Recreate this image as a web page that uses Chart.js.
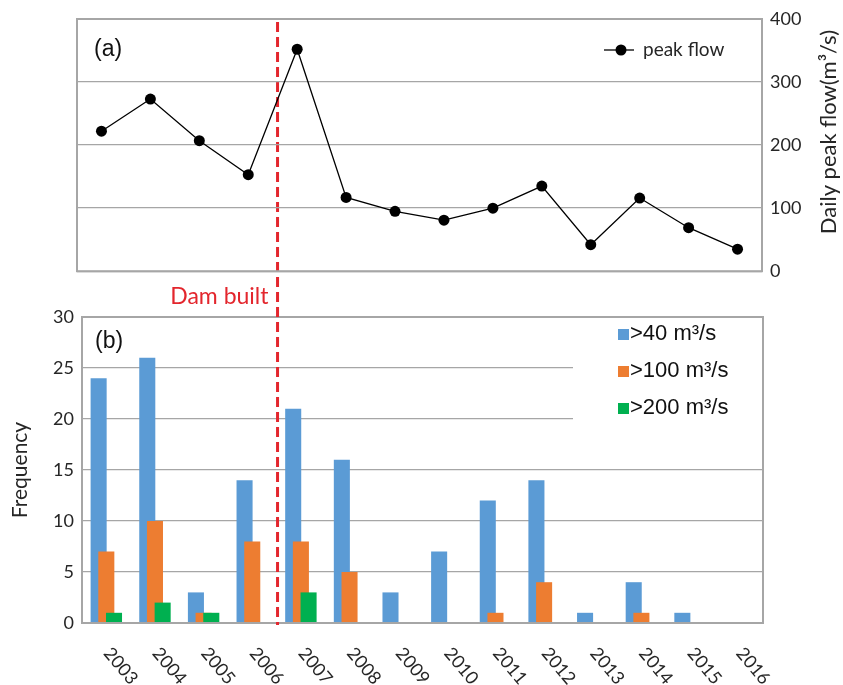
<!DOCTYPE html>
<html>
<head>
<meta charset="utf-8">
<style>
  body { margin: 0; background: #fff; }
  #wrap { position: relative; width: 843px; height: 685px; }
  canvas { position: absolute; left: 0; top: 0; }
</style>
</head>
<body>
<div id="wrap">
  <canvas id="freqChart" width="843" height="685"></canvas>
  <canvas id="flowChart" width="843" height="290"></canvas>
</div>

<script src="https://cdn.jsdelivr.net/npm/chart.js"></script>
<script>
  // data
  const years = ['2003', '2004', '2005', '2006', '2007', '2008', '2009', '2010', '2011', '2012', '2013', '2014', '2015', '2016'];
  const peakFlow = [222, 273, 207, 153, 352, 117, 95, 81, 100, 135, 42, 116, 69, 35];
  const over40 = [24, 26, 3, 14, 21, 16, 3, 7, 12, 14, 1, 4, 1, 0];
  const over100 = [7, 10, 1, 8, 8, 5, 0, 0, 1, 4, 0, 1, 0, 0];
  const over200 = [1, 2, 1, 0, 3, 0, 0, 0, 0, 0, 0, 0, 0, 0];
  const freqLabels = ['>40 m³/s', '>100 m³/s', '>200 m³/s'];
  const freqColors = ['#5b9bd5', '#ed7d31', '#00b050'];
  const damIndex = 3.52; // between 2006 and 2007

  const gridColor = '#a6a6a6';
  const textColor = '#262626';
  const red = '#e3262d';

  // bars in a group overlap by half, like the excel original:
  // every series gets its own hidden linear x axis, shifted a bit
  const firstYear = Number(years[0]);
  const lastYear = Number(years[years.length - 1]);
  const barShift = 0.158;
  const xAxis = shift => ({
    type: 'linear',
    display: false,
    offset: false,
    bounds: 'data',
    min: firstYear - 0.5 + shift,
    max: lastYear + 0.5 + shift
  });

  // top panel extras: box, (a), legend, right axis title
  const flowDecor = {
    id: 'flowDecor',
    afterDraw(chart) {
      const ctx = chart.ctx;
      const a = chart.chartArea;
      ctx.save();
      ctx.strokeStyle = gridColor;
      ctx.lineWidth = 2;
      ctx.strokeRect(a.left, a.top, a.right - a.left, a.bottom - a.top);

      ctx.fillStyle = '#111';
      ctx.font = '23px "Liberation Sans"';
      ctx.textBaseline = 'middle';
      ctx.textAlign = 'left';
      ctx.fillText('(a)', a.left + 17, a.top + 31);

      // legend: line with dot
      const ly = a.top + 31;
      ctx.strokeStyle = '#000';
      ctx.lineWidth = 1.3;
      ctx.beginPath();
      ctx.moveTo(a.right - 158, ly);
      ctx.lineTo(a.right - 128, ly);
      ctx.stroke();
      ctx.fillStyle = '#000';
      ctx.beginPath();
      ctx.arc(a.right - 141, ly, 5.5, 0, Math.PI * 2);
      ctx.fill();
      ctx.fillStyle = textColor;
      ctx.font = '19px Lato';
      ctx.fillText(chart.data.datasets[0].label, a.right - 119, ly);

      // right axis title, reading upward
      ctx.translate(a.right + 67, (a.top + a.bottom) / 2 - 13);
      ctx.rotate(-Math.PI / 2);
      ctx.textAlign = 'center';
      ctx.font = '22px Lato';
      ctx.fillText('Daily peak flow(m³/s)', 0, 0);
      ctx.restore();
    }
  };

  // bottom panel extras: box, legend, labels, dam line
  const freqDecor = {
    id: 'freqDecor',
    afterDatasetsDraw(chart) {
      const ctx = chart.ctx;
      const a = chart.chartArea;
      ctx.save();
      ctx.fillStyle = '#fff';
      ctx.fillRect(a.right - 190, a.top + 1, 190, 120);
      ctx.font = '22px "Liberation Sans"';
      ctx.textBaseline = 'middle';
      ctx.textAlign = 'left';
      freqLabels.forEach((lab, i) => {
        const y = a.top + 17 + i * 37;
        ctx.fillStyle = freqColors[i];
        ctx.fillRect(a.right - 145, y - 5, 11, 11);
        ctx.fillStyle = '#111';
        ctx.fillText(lab, a.right - 133, y);
      });
      ctx.restore();
    },
    afterDraw(chart) {
      const ctx = chart.ctx;
      const a = chart.chartArea;
      const xs = chart.scales.x;
      ctx.save();
      ctx.strokeStyle = gridColor;
      ctx.lineWidth = 2;
      ctx.strokeRect(a.left, a.top, a.right - a.left, a.bottom - a.top);

      ctx.fillStyle = '#111';
      ctx.font = '23px "Liberation Sans"';
      ctx.textBaseline = 'middle';
      ctx.fillText('(b)', a.left + 13, a.top + 25);

      // rotated year labels
      ctx.fillStyle = textColor;
      ctx.font = '18px Lato';
      years.forEach(yr => {
        ctx.save();
        ctx.translate(xs.getPixelForValue(Number(yr)) + 1, a.bottom + 27);
        ctx.rotate(50 * Math.PI / 180);
        ctx.textAlign = 'left';
        ctx.fillText(yr, 0, 0);
        ctx.restore();
      });

      // y title
      ctx.save();
      ctx.translate(20, (a.top + a.bottom) / 2);
      ctx.rotate(-Math.PI / 2);
      ctx.textAlign = 'center';
      ctx.font = '21px Lato';
      ctx.fillText('Frequency', 0, 0);
      ctx.restore();

      // dam line
      const damX = xs.getPixelForValue(firstYear + damIndex);
      ctx.strokeStyle = red;
      ctx.lineWidth = 3;
      ctx.setLineDash([10, 5]);
      ctx.beginPath();
      ctx.moveTo(damX, 22);
      ctx.lineTo(damX, a.bottom + 2);
      ctx.stroke();
      ctx.setLineDash([]);
      ctx.fillStyle = red;
      ctx.font = '23px Lato';
      ctx.textAlign = 'right';
      ctx.fillText('Dam built', damX - 9, a.top - 20);
      ctx.restore();
    }
  };

  new Chart(document.getElementById('freqChart'), {
    type: 'bar',
    data: {
      labels: years,
      datasets: [
        { label: freqLabels[0], data: over40, backgroundColor: freqColors[0], xAxisID: 'xl', order: 3 },
        { label: freqLabels[1], data: over100, backgroundColor: freqColors[1], xAxisID: 'x', order: 2 },
        { label: freqLabels[2], data: over200, backgroundColor: freqColors[2], xAxisID: 'xr', order: 1 }
      ]
    },
    options: {
      responsive: false,
      animation: false,
      datasets: { bar: { grouped: false, categoryPercentage: 1, barPercentage: 0.33 } },
      layout: { padding: { top: 317, left: 0, right: 80, bottom: 62 } },
      plugins: { legend: { display: false }, tooltip: { enabled: false } },
      scales: {
        xl: xAxis(barShift),
        x: xAxis(0),
        xr: xAxis(-barShift),
        y: {
          min: 0, max: 30,
          afterFit: s => { s.width = 82; },
          grid: { color: gridColor, lineWidth: 1.3, drawTicks: false },
          border: { display: false },
          ticks: { stepSize: 5, padding: 8, color: textColor, font: { family: 'Lato', size: 18 } }
        }
      }
    },
    plugins: [freqDecor]
  });

  new Chart(document.getElementById('flowChart'), {
    type: 'line',
    data: {
      labels: years,
      datasets: [{
        label: 'peak flow',
        data: peakFlow,
        borderColor: '#000',
        borderWidth: 1.3,
        pointRadius: 5.5,
        pointBackgroundColor: '#000',
        pointBorderWidth: 0,
        tension: 0
      }]
    },
    options: {
      responsive: false,
      animation: false,
      layout: { padding: { left: 77, top: 19, right: 0, bottom: 13 } },
      plugins: { legend: { display: false }, tooltip: { enabled: false } },
      scales: {
        x: { display: false, offset: true },
        y: {
          position: 'right',
          min: 0, max: 400,
          afterFit: s => { s.width = 81; },
          grid: { color: gridColor, lineWidth: 1.3, drawTicks: false },
          border: { display: false },
          ticks: { stepSize: 100, padding: 8, color: textColor, font: { family: 'Lato', size: 18 } }
        }
      }
    },
    plugins: [flowDecor]
  });
</script>
</body>
</html>
